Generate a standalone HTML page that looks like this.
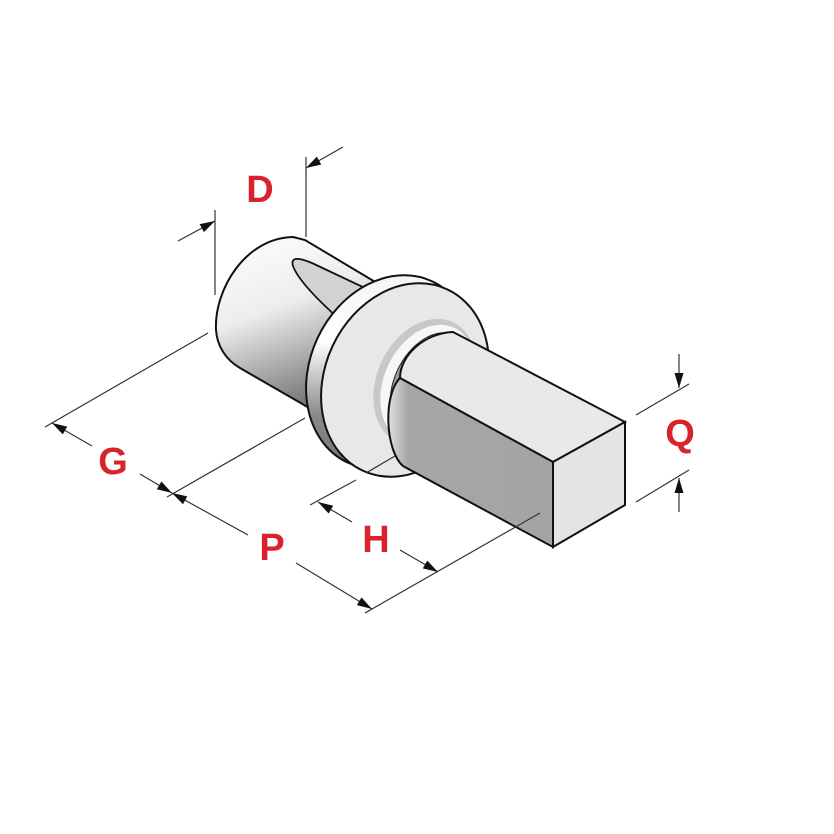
<!DOCTYPE html>
<html><head><meta charset="utf-8"><style>
html,body{margin:0;padding:0;background:#fff;}
svg{display:block;}
text{font-family:"Liberation Sans",Arial,sans-serif;font-weight:bold;fill:#d9222b;font-size:38px;text-anchor:middle;dominant-baseline:central;}
</style></head><body>
<svg width="834" height="834" viewBox="0 0 834 834" xmlns="http://www.w3.org/2000/svg">
<defs>
<linearGradient id="cyl" x1="0" y1="0" x2="0.35" y2="1">
<stop offset="0" stop-color="#ffffff"/><stop offset="0.45" stop-color="#ededed"/><stop offset="0.75" stop-color="#a8a8a8"/><stop offset="1" stop-color="#6e6e6e"/>
</linearGradient>
<linearGradient id="fl" x1="0" y1="0" x2="0.4" y2="1">
<stop offset="0" stop-color="#f0f0f0"/><stop offset="0.45" stop-color="#ffffff"/><stop offset="0.8" stop-color="#8a8a8a"/><stop offset="1" stop-color="#777"/>
</linearGradient>
<linearGradient id="side" x1="0" y1="0" x2="1" y2="0">
<stop offset="0" stop-color="#e0e0e0"/><stop offset="0.12" stop-color="#a6a6a6"/><stop offset="1" stop-color="#a4a4a4"/>
</linearGradient>
<marker id="ar" viewBox="0 0 10 6" refX="10" refY="3" markerWidth="22" markerHeight="9" markerUnits="userSpaceOnUse" orient="auto"><path d="M0,0 L10,3 L0,6 Z" fill="#111"/></marker>
</defs>

<!-- cylinder -->
<path d="M216,330 C214,290 245,238 293,237 L305,240 L392,292 L330,420 L240,368 C226,360 217,346 216,330 Z" fill="url(#cyl)" stroke="#111" stroke-width="2"/>
<path d="M293,266 C290,256 300,258 312,263 L365,288 L338,318 C318,300 298,280 293,266 Z" fill="#d2d2d2" stroke="#111" stroke-width="1.8"/>

<!-- flange -->
<ellipse cx="390" cy="372" rx="80" ry="100" transform="rotate(25 390 372)" fill="url(#fl)" stroke="#111" stroke-width="2"/>
<ellipse cx="405" cy="380" rx="80" ry="100" transform="rotate(25 405 380)" fill="#e8e8e8" stroke="#111" stroke-width="2"/>
<ellipse cx="425" cy="382" rx="48" ry="66" transform="rotate(25 425 382)" fill="#c8c8c8"/>
<ellipse cx="428" cy="384" rx="44" ry="62" transform="rotate(25 428 384)" fill="#f7f7f7"/>
<ellipse cx="432" cy="386" rx="38" ry="56" transform="rotate(25 432 386)" fill="#9c9c9c" stroke="#222" stroke-width="1"/>
<ellipse cx="440" cy="382" rx="34" ry="50" transform="rotate(25 440 382)" fill="#e6e6e6" stroke="#222" stroke-width="1"/>

<!-- bar -->
<path d="M453,332 L625,422 L553,462 L400,378 C400,355 425,333 453,332 Z" fill="#e9e9e9" stroke="#111" stroke-width="2"/>
<path d="M400,378 L553,462 L553,547 L403,466 C385,450 383,395 400,378 Z" fill="url(#side)" stroke="#111" stroke-width="2"/>
<path d="M553,462 L625,422 L625,505 L553,547 Z" fill="#e4e4e4" stroke="#111" stroke-width="2"/>

<g stroke="#333" stroke-width="1.2" fill="none">
<line x1="215" y1="210" x2="215" y2="295"/>
<line x1="306" y1="157" x2="306" y2="237"/>
<line x1="178" y1="241" x2="215" y2="221" marker-end="url(#ar)"/>
<line x1="343" y1="147" x2="306" y2="168" marker-end="url(#ar)"/>
<line x1="45" y1="427" x2="208" y2="333"/>
<line x1="167" y1="497" x2="305" y2="418"/>
<line x1="310" y1="505" x2="356" y2="480"/>
<line x1="365" y1="613" x2="540" y2="513"/>
<line x1="366" y1="473" x2="395" y2="456"/>
<line x1="92" y1="446" x2="52" y2="423" marker-end="url(#ar)"/>
<line x1="140" y1="474" x2="172" y2="493" marker-end="url(#ar)"/>
<line x1="248" y1="535" x2="172" y2="493" marker-end="url(#ar)"/>
<line x1="296" y1="563" x2="372" y2="609" marker-end="url(#ar)"/>
<line x1="352" y1="522" x2="318" y2="502" marker-end="url(#ar)"/>
<line x1="400" y1="550" x2="438" y2="572" marker-end="url(#ar)"/>
<line x1="636" y1="415" x2="689" y2="384"/>
<line x1="636" y1="502" x2="689" y2="470"/>
<line x1="679" y1="354" x2="679" y2="388" marker-end="url(#ar)"/>
<line x1="679" y1="512" x2="679" y2="478" marker-end="url(#ar)"/>
</g>

<text x="260" y="190">D</text>
<text x="113" y="462">G</text>
<text x="272" y="548">P</text>
<text x="376" y="540">H</text>
<text x="680" y="434">Q</text>
</svg>
</body></html>
